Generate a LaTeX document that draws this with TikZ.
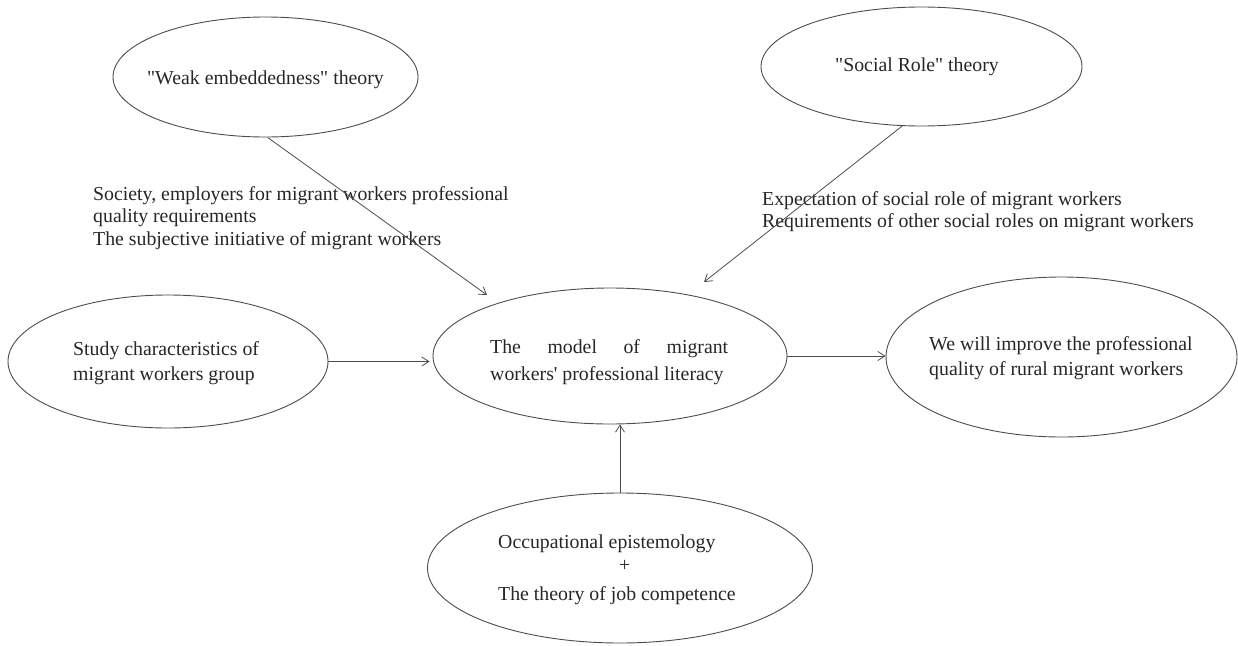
\documentclass[tikz,border=0pt]{standalone}
\usepackage{fontspec}
\setmainfont{Liberation Serif}[Ligatures=TeXOff]
\usetikzlibrary{shapes.geometric,arrows.meta}
\begin{document}
\begin{tikzpicture}[x=1pt,y=-1pt,
  ell/.style={draw=black!70, line width=0.9pt, ellipse, inner sep=0pt},
  lbl/.style={inner sep=0pt, align=left, text=black!85, font=\fontsize{19.8}{25}\selectfont},
  arr/.style={draw=black!70, line width=0.8pt, -{Straight Barb[length=7pt,width=9pt]}}]
\useasboundingbox (0,0) rectangle (1238,645);

% ellipses
\node[ell, minimum width=305pt, minimum height=120pt] (w) at (265.5,77) {};
\node[ell, minimum width=321pt, minimum height=119pt] (s) at (921.5,66.5) {};
\node[ell, minimum width=320pt, minimum height=133pt] (l) at (168,361.5) {};
\node[ell, minimum width=354pt, minimum height=136pt] (c) at (610,356) {};
\node[ell, minimum width=351pt, minimum height=160pt] (r) at (1061.5,357) {};
\node[ell, minimum width=385pt, minimum height=150pt] (b) at (620,568) {};

% texts in ellipses
\node[lbl] (wt) at (265.5,80) {"Weak embeddedness" theory};
\node[lbl] (st) at (917,67) {"Social Role" theory};
\node[lbl, anchor=west] (lt) at (73,363) {Study characteristics of\\migrant workers group};
\node[lbl, anchor=west] (ct) at (490,362) {\hbox to 238pt{The\hfill model\hfill of\hfill migrant}\\[2pt]workers' professional literacy};
\node[lbl, anchor=west] (rt) at (929,358) {We will improve the professional\\quality of rural migrant workers};
\node[lbl, anchor=west] (bt) at (498,569.5) {Occupational epistemology\\[-2pt]\hspace*{121pt}+\\[4pt]The theory of job competence};

% free texts
\node[lbl, anchor=west, font=\fontsize{19.8}{22.5}\selectfont] (t1) at (93,218) {Society, employers for migrant workers professional\\quality requirements\\The subjective initiative of migrant workers};
\node[lbl, anchor=west, font=\fontsize{19.8}{22.5}\selectfont] (t2) at (762,211.5) {Expectation of social role of migrant workers\\Requirements of other social roles on migrant workers};

% connectors
\coordinate (cw) at (487,295);
\coordinate (cs) at (704,282);
\draw[arr] (w.272) -- (cw);
\draw[arr] (s.252) -- (cs);
\draw[arr, shorten >=3pt] (l.east) -- (l.east -| c.west);
\draw[arr] (c.east) -- (c.east -| r.west);
\draw[arr] (b.north) -- (b.north |- c.south);
\end{tikzpicture}
\end{document}
